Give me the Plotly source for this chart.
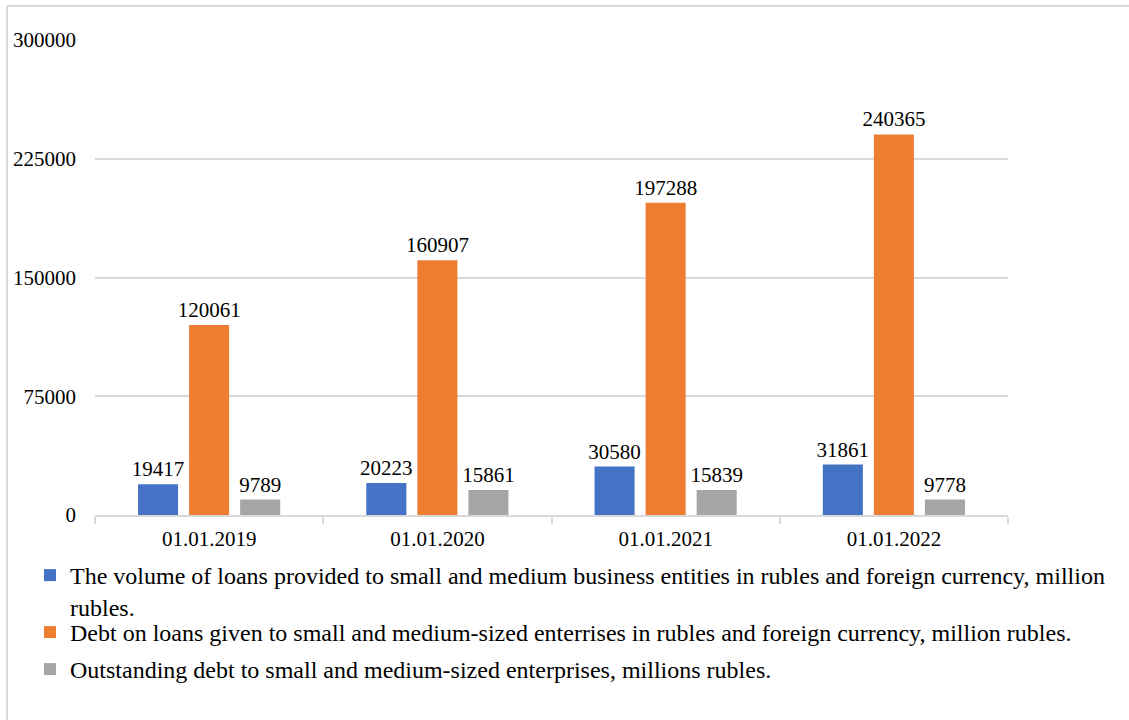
import plotly.graph_objects as go

# Reporting dates (categories)
dates = ["01.01.2019", "01.01.2020", "01.01.2021", "01.01.2022"]

# Series values, million rubles
loans_volume = [19417, 20223, 30580, 31861]
loans_debt = [120061, 160907, 197288, 240365]
outstanding_debt = [9789, 15861, 15839, 9778]

series_names = [
    "The volume of loans provided to small and medium business entities in rubles and foreign currency, million<br>rubles.",
    "Debt on loans given to small and medium-sized enterrises in rubles and foreign currency, million rubles.",
    "Outstanding debt to small and medium-sized enterprises, millions rubles.",
]

y_ticks = [0, 75000, 150000, 225000, 300000]

colors = ["#4472C4", "#ED7D31", "#A5A5A5"]
FONT = "Liberation Serif, Times New Roman, serif"
W, H = 1129, 720
L, R, T, B = 95, 121, 40, 205

fig = go.Figure()
for i, (name, vals) in enumerate(zip(series_names, [loans_volume, loans_debt, outstanding_debt])):
    fig.add_trace(go.Bar(
        x=dates, y=vals, name=name,
        marker=dict(color=colors[i], line=dict(width=0)),
        text=[str(v) for v in vals], textposition="outside",
        textangle=0, constraintext="none",
        textfont=dict(family=FONT, size=21, color="#000000"),
        cliponaxis=False,
        legend="legend" if i == 0 else f"legend{i + 1}",
    ))

# One legend box per series so each row sits where it should
legend_tops = [553, 610, 647]
legend_common = dict(
    xref="container", yref="container", x=30 / W, xanchor="left", yanchor="top",
    font=dict(family=FONT, size=24, color="#000000"),
    bgcolor="rgba(0,0,0,0)", borderwidth=0, valign="top",
    itemclick=False, itemdoubleclick=False,
)
legends = {}
for i, top in enumerate(legend_tops):
    key = "legend" if i == 0 else f"legend{i + 1}"
    legends[key] = dict(legend_common, y=1 - top / H)

fig.update_layout(
    width=W, height=H,
    margin=dict(l=L, r=R, t=T, b=B, autoexpand=False),
    paper_bgcolor="white", plot_bgcolor="white",
    barmode="group", bargap=0.329, bargroupgap=0.216,
    showlegend=True,
    font=dict(family=FONT, size=21, color="#000000"),
    **legends,
)

fig.update_xaxes(
    type="category", showgrid=False, automargin=False,
    showline=True, linecolor="#d9d9d9", linewidth=2,
    ticks="outside", tickson="boundaries", ticklen=7, tickcolor="#d9d9d9", tickwidth=2,
    tickfont=dict(family=FONT, size=21, color="#000000"),
    ticklabelstandoff=4,
)
fig.update_yaxes(
    range=[0, 300000], tickvals=y_ticks, ticktext=[str(v) for v in y_ticks],
    showgrid=True, gridcolor="#d9d9d9", gridwidth=2, automargin=False,
    zeroline=False, showline=False, ticks="",
    tickfont=dict(family=FONT, size=21, color="#000000"),
    ticklabelstandoff=18,
)

# Outer frame of the chart area (left and top edges)
plot_w, plot_h = W - L - R, H - T - B
fx0 = (7 - L) / plot_w
fx1 = (W + 5 - L) / plot_w
fy1 = (H - B - 6) / plot_h
fy0 = (H - B - (H + 5)) / plot_h
fig.add_shape(type="line", xref="paper", yref="paper", x0=fx0, x1=fx0, y0=fy0, y1=fy1,
              line=dict(color="#d9d9d9", width=2), layer="below")
fig.add_shape(type="line", xref="paper", yref="paper", x0=fx0, x1=fx1, y0=fy1, y1=fy1,
              line=dict(color="#d9d9d9", width=2), layer="below")

fig.write_html("out.html")
